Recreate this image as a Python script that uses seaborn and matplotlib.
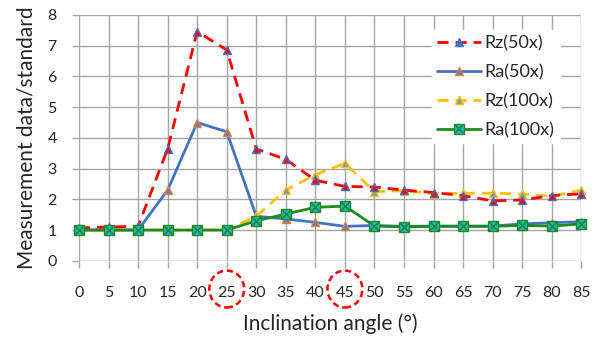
import matplotlib
matplotlib.use("Agg")
import matplotlib.pyplot as plt
import seaborn as sns
import pandas as pd
from matplotlib.patches import Ellipse
from matplotlib.lines import Line2D
from matplotlib.legend_handler import HandlerTuple
import matplotlib.transforms as mtransforms

angles = [0, 5, 10, 15, 20, 25, 30, 35, 40, 45, 50, 55, 60, 65, 70, 75, 80, 85]
rz50 = [1.07, 1.1, 1.12, 3.64, 7.46, 6.86, 3.64, 3.3, 2.62, 2.42, 2.4, 2.3, 2.22, 2.12, 1.95, 1.98, 2.12, 2.18]
ra50 = [1.0, 1.0, 1.0, 2.3, 4.5, 4.2, 1.45, 1.36, 1.25, 1.12, 1.15, 1.12, 1.13, 1.13, 1.13, 1.2, 1.24, 1.27]
rz100 = [1.0, 1.0, 1.0, 1.0, 1.0, 1.0, 1.45, 2.3, 2.8, 3.17, 2.25, 2.28, 2.18, 2.2, 2.2, 2.17, 2.1, 2.3]
ra100 = [1.0, 1.0, 1.0, 1.0, 1.0, 1.0, 1.3, 1.52, 1.74, 1.78, 1.13, 1.1, 1.12, 1.12, 1.12, 1.15, 1.13, 1.2]
series_names = ["Rz(50x)", "Ra(50x)", "Rz(100x)", "Ra(100x)"]
highlight = [25, 45]
yticks = list(range(0, 9))

sns.set_theme(style="white")
plt.rcParams['font.family'] = ['Lato', 'DejaVu Sans']

fig = plt.figure(figsize=(6.03, 3.40), dpi=100)
ax = fig.add_axes([0.131, 0.233, 0.833, 0.723])

df = pd.DataFrame({"angle": angles, "Rz50": rz50, "Ra50": ra50, "Rz100": rz100, "Ra100": ra100})

blue = "#4472c4"
red = "#ff0000"
orange = "#ed7d31"
yellow = "#ffc000"
green = "#1f8a1f"
cyan = "#1fb5d8"

sns.lineplot(data=df, x="angle", y="Ra50", ax=ax, color=blue, lw=2, zorder=3,
             marker="^", markersize=6, markerfacecolor="#5b84c8", markeredgecolor=orange,
             markeredgewidth=1.0, clip_on=False)
sns.lineplot(data=df, x="angle", y="Rz100", ax=ax, color=yellow, lw=2, zorder=4,
             marker="^", markersize=6, markerfacecolor="#7e96c0", markeredgecolor=yellow,
             markeredgewidth=1.0, clip_on=False)
ax.lines[-1].set_dashes([4, 2.5])
sns.lineplot(data=df, x="angle", y="Rz50", ax=ax, color=red, lw=2, zorder=5,
             marker="^", markersize=6, markerfacecolor=red, markeredgecolor=blue,
             markeredgewidth=1.0, clip_on=False)
ax.lines[-1].set_dashes([4, 2.5])
sns.lineplot(data=df, x="angle", y="Ra100", ax=ax, color=green, lw=2, zorder=6,
             marker="s", markersize=6.5, markerfacecolor=cyan, markeredgecolor=green,
             markeredgewidth=1.0, clip_on=False)
sns.scatterplot(data=df, x="angle", y="Ra100", ax=ax, marker="x", s=40, color=green,
                linewidth=1.2, zorder=7, clip_on=False)

ax.set_xlim(0, 85)
ax.set_ylim(0, 8)
ax.set_xticks(angles)
ax.set_yticks(yticks)
ax.grid(True, color="#a6a6a6", lw=1)
for s in ax.spines.values():
    s.set_visible(False)
ax.tick_params(axis="both", length=5, color="#a6a6a6", width=1, labelsize=11.5,
               labelcolor="#262626")
ax.tick_params(axis="x", direction="out", bottom=True, pad=13)
ax.tick_params(axis="y", direction="out", left=True, pad=11)
ax.set_xlabel("Inclination angle (°)", fontsize=15, color="#262626", labelpad=10)
ax.set_ylabel("Measurement data/standard", fontsize=15, color="#262626", labelpad=8)

trans = mtransforms.blended_transform_factory(ax.transData, ax.transAxes)
for h in highlight:
    e = Ellipse((h, -0.115), width=5.9, height=0.15, transform=trans, fill=False,
                edgecolor=red, lw=1.8, ls=(0, (2.5, 1.5)), clip_on=False)
    ax.add_patch(e)

h1 = Line2D([], [], color=red, lw=2, dashes=[4, 2.5], marker="^", markersize=6,
            markerfacecolor=blue, markeredgecolor=blue)
h2 = Line2D([], [], color=blue, lw=2, marker="^", markersize=6,
            markerfacecolor="#5b84c8", markeredgecolor=orange)
h3 = Line2D([], [], color=yellow, lw=2, dashes=[4, 2.5], marker="^", markersize=6,
            markerfacecolor="#7e96c0", markeredgecolor=yellow)
h4a = Line2D([], [], color=green, lw=2, marker="s", markersize=6.5,
             markerfacecolor=cyan, markeredgecolor=green)
h4b = Line2D([], [], color=green, lw=0, marker="x", markersize=6, markeredgewidth=1.2)
leg = ax.legend([h1, h2, h3, (h4a, h4b)], series_names,
                handler_map={tuple: HandlerTuple(ndivide=1, pad=0)},
                loc="upper right", bbox_to_anchor=(0.975, 0.975), frameon=True,
                facecolor="white", edgecolor="white", framealpha=1, fancybox=False,
                fontsize=13, handlelength=2.4, labelspacing=0.7, handletextpad=0.2,
                borderpad=0.3)
for t in leg.get_texts():
    t.set_color("#262626")

fig.savefig("out.png", dpi=100)
